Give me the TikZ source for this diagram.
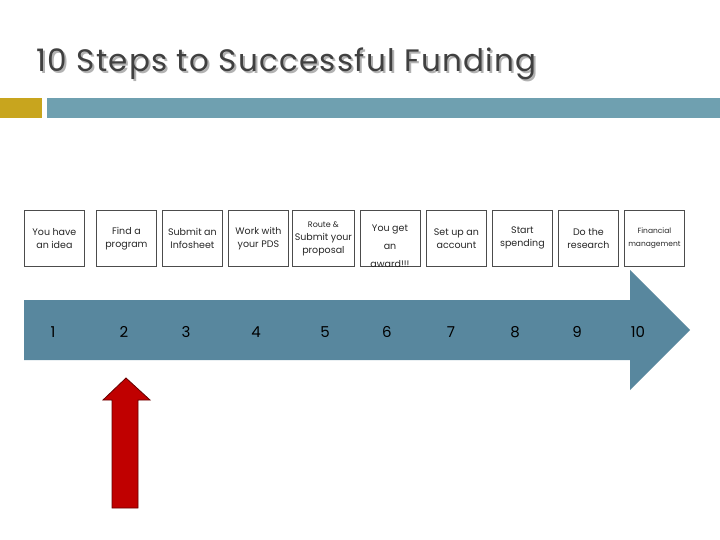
\documentclass[tikz,border=0pt]{standalone}
\usepackage{fontspec}
\setmainfont{Poppins}
\newfontfamily\titlefont[LetterSpace=4]{Poppins}
\begin{document}
\begin{tikzpicture}[x=1pt,y=-1pt,
  box/.style={draw=black!70,line width=0.8pt,minimum width=60pt,minimum height=56pt,anchor=north west,inner sep=1pt,align=center,font=\fontsize{9.5}{13}\selectfont,text=black!85},
  num/.style={font=\fontsize{15}{15}\selectfont,text=black}]
\useasboundingbox (0,0) rectangle (720,540);
\node[anchor=base west,font=\titlefont\fontsize{31}{31}\selectfont,text=black!30,xshift=2pt,yshift=-2pt] (shadow) at (33,72) {10 Steps to Successful Funding};
\node[anchor=base west,font=\titlefont\fontsize{31}{31}\selectfont,text=black!75] (title) at (33,72) {10 Steps to Successful Funding};
\fill[color={rgb,255:red,200;green,165;blue,30}] (0,98) rectangle (42,118);
\fill[color={rgb,255:red,111;green,160;blue,176}] (47,98) rectangle (720,118);
\fill[color={rgb,255:red,88;green,135;blue,158}] (24,300) -- (630,300) -- (630,270) -- (690,330) -- (630,390) -- (630,360) -- (24,360) -- cycle;
\node[box] (b1) at (24,210) {You have\\an idea};
\node[box] (b2) at (96,210) {Find a\\program};
\node[box] (b3) at (162,210) {Submit an\\Infosheet};
\node[box] (b4) at (228,210) {Work with\\your PDS};
\node[box,minimum width=62pt] (b5) at (292,210) {{\fontsize{8}{10}\selectfont Route \&}\\Submit your\\proposal};
\node[box] (b6) at (360,210) {};
\node[align=center,font=\fontsize{9.5}{18}\selectfont,text=black!85,anchor=north] (t6) at (390,221) {You get\\an\\award!!!};
\node[box] (b7) at (426,210) {Set up an\\account};
\node[box] (b8) at (492,210) {Start\\spending};
\node[box] (b9) at (558,210) {Do the\\research};
\node[box] (b10) at (624,210) {{\fontsize{7.5}{13}\selectfont Financial}\\{\fontsize{7.5}{10}\selectfont management}};
\foreach \x/\n in {53/1,124/2,186/3,256/4,325/5,387/6,451/7,515/8,577/9,638/10}
  \node[num] (n\n) at (\x,332) {\n};
\fill[color={rgb,255:red,192;green,0;blue,0},draw=black!60!red,line width=0.8pt] (126,378) -- (150,400) -- (138,400) -- (138,508) -- (112,508) -- (112,400) -- (103,400) -- cycle;
\end{tikzpicture}
\end{document}
